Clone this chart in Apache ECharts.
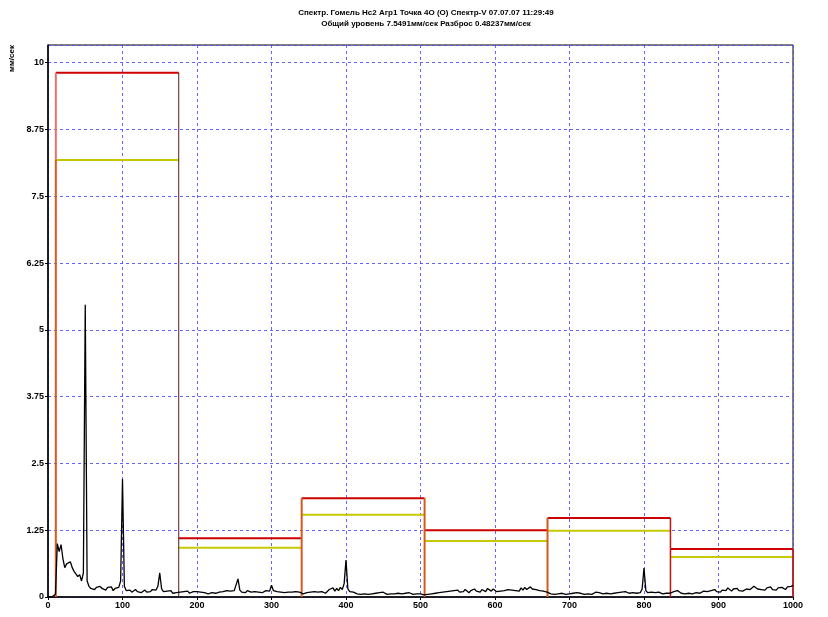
<!DOCTYPE html>
<html>
<head>
<meta charset="utf-8">
<script src="https://cdn.jsdelivr.net/npm/echarts@6/dist/echarts.min.js"></script>
<style>
html,body{margin:0;padding:0;background:#fff;}
#c{width:828px;height:617px;}
</style>
</head>
<body>
<div id="c"></div>
<script>
var titleLine1 = 'Спектр. Гомель Нс2 Агр1 Точка 4О (О) Спектр-V 07.07.07 11:29:49';
var titleLine2 = 'Общий уровень 7.5491мм/сек Разброс 0.48237мм/сек';
var unitLabel = 'мм/сек';

var freqStep = 2.5;
var amplitude = [
  0,0,0,0,0.05,1.0,0.85,0.98,0.72,0.55,0.62,0.6,0.66,0.55,0.48,0.5,0.38,0.42,0.3,0.45,
  5.47,0.3,0.2,0.16,0.19,0.14,0.18,0.15,0.2,0.16,0.17,0.13,0.18,0.15,0.19,0.12,0.16,0.14,0.18,0.3,
  2.21,0.2,0.12,0.1,0.13,0.09,0.11,0.14,0.1,0.12,0.08,0.1,0.13,0.09,0.12,0.1,0.14,0.11,0.13,0.2,
  0.45,0.15,0.1,0.08,0.11,0.09,0.12,0.07,0.1,0.08,0.11,0.09,0.06,0.1,0.08,0.11,0.07,0.09,0.1,0.08,
  0.1,0.07,0.09,0.11,0.08,0.1,0.06,0.09,0.08,0.11,0.07,0.1,0.09,0.07,0.1,0.08,0.12,0.09,0.11,0.1,
  0.12,0.15,0.34,0.13,0.09,0.11,0.08,0.12,0.1,0.09,0.12,0.1,0.13,0.09,0.11,0.08,0.1,0.12,0.09,0.11,
  0.22,0.12,0.15,0.1,0.12,0.09,0.11,0.08,0.1,0.09,0.07,0.09,0.08,0.1,0.07,0.09,0.08,0.06,0.09,0.08,
  0.07,0.09,0.08,0.1,0.07,0.09,0.08,0.1,0.09,0.07,0.1,0.14,0.12,0.17,0.11,0.16,0.12,0.18,0.14,0.25,
  0.69,0.15,0.1,0.08,0.09,0.07,0.06,0.08,0.05,0.07,0.06,0.08,0.05,0.07,0.06,0.05,0.07,0.06,0.08,0.06,
  0.09,0.06,0.05,0.07,0.06,0.04,0.06,0.05,0.07,0.05,0.06,0.04,0.07,0.05,0.08,0.06,0.05,0.07,0.06,0.05,
  0.06,0.05,0.04,0.06,0.05,0.07,0.06,0.08,0.07,0.09,0.08,0.1,0.09,0.07,0.1,0.08,0.11,0.09,0.12,0.1,
  0.13,0.09,0.12,0.1,0.14,0.11,0.08,0.12,0.1,0.15,0.11,0.13,0.09,0.14,0.12,0.1,0.16,0.13,0.11,0.15,
  0.12,0.1,0.13,0.11,0.09,0.12,0.1,0.14,0.11,0.13,0.1,0.12,0.15,0.11,0.17,0.13,0.18,0.14,0.16,0.19,
  0.15,0.18,0.14,0.17,0.12,0.15,0.11,0.13,0.09,0.08,0.06,0.07,0.05,0.07,0.06,0.05,0.07,0.06,0.05,0.07,
  0.06,0.05,0.07,0.06,0.08,0.05,0.07,0.06,0.05,0.08,0.06,0.07,0.05,0.07,0.09,0.06,0.08,0.07,0.06,0.08,
  0.07,0.09,0.06,0.08,0.07,0.1,0.08,0.07,0.09,0.08,0.1,0.08,0.07,0.09,0.08,0.1,0.07,0.09,0.08,0.15,
  0.54,0.12,0.08,0.07,0.09,0.06,0.08,0.07,0.09,0.07,0.06,0.08,0.07,0.05,0.07,0.06,0.1,0.08,0.12,0.09,
  0.07,0.08,0.06,0.09,0.07,0.08,0.06,0.09,0.08,0.1,0.07,0.09,0.11,0.08,0.1,0.09,0.12,0.09,0.14,0.1,
  0.12,0.09,0.13,0.16,0.12,0.17,0.14,0.11,0.15,0.13,0.16,0.12,0.14,0.11,0.13,0.15,0.12,0.14,0.16,0.2,
  0.17,0.15,0.18,0.14,0.16,0.13,0.17,0.15,0.19,0.14,0.16,0.13,0.17,0.15,0.18,0.16,0.14,0.19,0.17,0.2,
  0.22
];

var bandEdges = [10.5, 175.5, 340.5, 505.5, 670.5, 835.5, 1000];
var bandRed = [9.81, 1.10, 1.85, 1.25, 1.48, 0.90];
var bandYellow = [8.18, 0.92, 1.54, 1.05, 1.24, 0.75];

var xTicks = [0,100,200,300,400,500,600,700,800,900,1000];
var yTicks = ['0','1.25','2.5','3.75','5','6.25','7.5','8.75','10'];

// style (not data)
var edgeColors = ['#d9581c','#5a1a1a','#d9581c','#d9581c','#d9581c','#cc1010','#cc1010'];
var edgeWidths = [2, 1, 2, 2, 2, 1.5, 1.5];

var spectrum = amplitude.map(function (v, i) { return [i * freqStep, v]; });

var bandItems = [];
for (var i = 0; i < bandRed.length; i++) {
  bandItems.push([bandEdges[i], bandEdges[i + 1], bandRed[i], bandYellow[i]]);
}
var edgeItems = [];
for (var j = 0; j < bandEdges.length; j++) {
  var left = j > 0 ? bandRed[j - 1] : 0;
  var right = j < bandRed.length ? bandRed[j] : 0;
  edgeItems.push([bandEdges[j], Math.max(left, right), j]);
}

var chart = echarts.init(document.getElementById('c'), null, {renderer: 'canvas'});
var FONT = 'Liberation Sans, Arial, sans-serif';

chart.setOption({
  animation: false,
  backgroundColor: '#fff',
  title: [
    {text: titleLine1, left: 421, top: 4, textAlign: 'center',
     textStyle: {fontSize: 8, fontWeight: 'bold', color: '#000', fontFamily: FONT}},
    {text: titleLine2, left: 421, top: 15, textAlign: 'center',
     textStyle: {fontSize: 8, fontWeight: 'bold', color: '#000', fontFamily: FONT}}
  ],
  graphic: [{
    type: 'text', left: 8, top: 45, rotation: Math.PI / 2,
    style: {text: unitLabel, fontSize: 8, fontWeight: 'bold', fill: '#000', fontFamily: FONT}
  }],
  grid: {left: 48, right: 35, top: 45, bottom: 20, show: true, borderColor: '#000', borderWidth: 1, backgroundColor: 'transparent'},
  xAxis: {
    type: 'value', min: 0, max: 1000, interval: 100,
    axisLine: {show: true, lineStyle: {color: '#000', width: 1.5}},
    axisTick: {show: true, length: 3, lineStyle: {color: '#000'}},
    axisLabel: {fontSize: 9, fontWeight: 'bold', color: '#000', fontFamily: FONT, margin: 4,
      formatter: function (v) { return xTicks.indexOf(v) >= 0 ? String(v) : ''; }},
    splitLine: {show: true, lineStyle: {color: '#4a4aff', type: [3, 3], width: 1, opacity: 0.85}}
  },
  yAxis: {
    type: 'value', min: 0, max: 10.33, interval: 1.25,
    axisLine: {show: true, lineStyle: {color: '#000', width: 1.5}},
    axisTick: {show: true, length: 3, lineStyle: {color: '#000'}},
    axisLabel: {fontSize: 9, fontWeight: 'bold', color: '#000', fontFamily: FONT, margin: 4, showMaxLabel: false,
      formatter: function (v) { var s = String(Math.round(v * 100) / 100); return yTicks.indexOf(s) >= 0 ? s : ''; }},
    splitLine: {show: true, lineStyle: {color: '#4a4aff', type: [3, 3], width: 1, opacity: 0.85}}
  },
  series: [
    {
      type: 'line', data: spectrum, showSymbol: false, symbol: 'none',
      lineStyle: {color: '#000', width: 1.3}, z: 5
    },
    {
      type: 'custom', data: bandItems, z: 4,
      renderItem: function (params, api) {
        var x0 = api.value(0), x1 = api.value(1), r = api.value(2), yv = api.value(3);
        var pr0 = api.coord([x0, r]), pr1 = api.coord([x1, r]);
        var py0 = api.coord([x0, yv]), py1 = api.coord([x1, yv]);
        return {type: 'group', children: [
          {type: 'line', shape: {x1: pr0[0], y1: pr0[1], x2: pr1[0], y2: pr1[1]},
           style: {stroke: '#cc0000', lineWidth: 2}},
          {type: 'line', shape: {x1: py0[0], y1: py0[1], x2: py1[0], y2: py1[1]},
           style: {stroke: '#c8c800', lineWidth: 2}}
        ]};
      }
    },
    {
      type: 'custom', data: edgeItems, z: 4,
      renderItem: function (params, api) {
        var x = api.value(0), top = api.value(1), idx = api.value(2);
        var p0 = api.coord([x, 0]), p1 = api.coord([x, top]);
        var children = [];
        if (idx === 0) {
          var pm = api.coord([x, bandYellow[0]]);
          children.push({type: 'line', shape: {x1: p0[0], y1: p0[1], x2: pm[0], y2: pm[1]},
            style: {stroke: edgeColors[idx], lineWidth: edgeWidths[idx]}});
          children.push({type: 'line', shape: {x1: pm[0], y1: pm[1], x2: p1[0], y2: p1[1]},
            style: {stroke: '#e87070', lineWidth: 2}});
        } else {
          children.push({type: 'line', shape: {x1: p0[0], y1: p0[1], x2: p1[0], y2: p1[1]},
            style: {stroke: edgeColors[idx], lineWidth: edgeWidths[idx]}});
        }
        return {type: 'group', children: children};
      }
    }
  ]
});
</script>
</body>
</html>
